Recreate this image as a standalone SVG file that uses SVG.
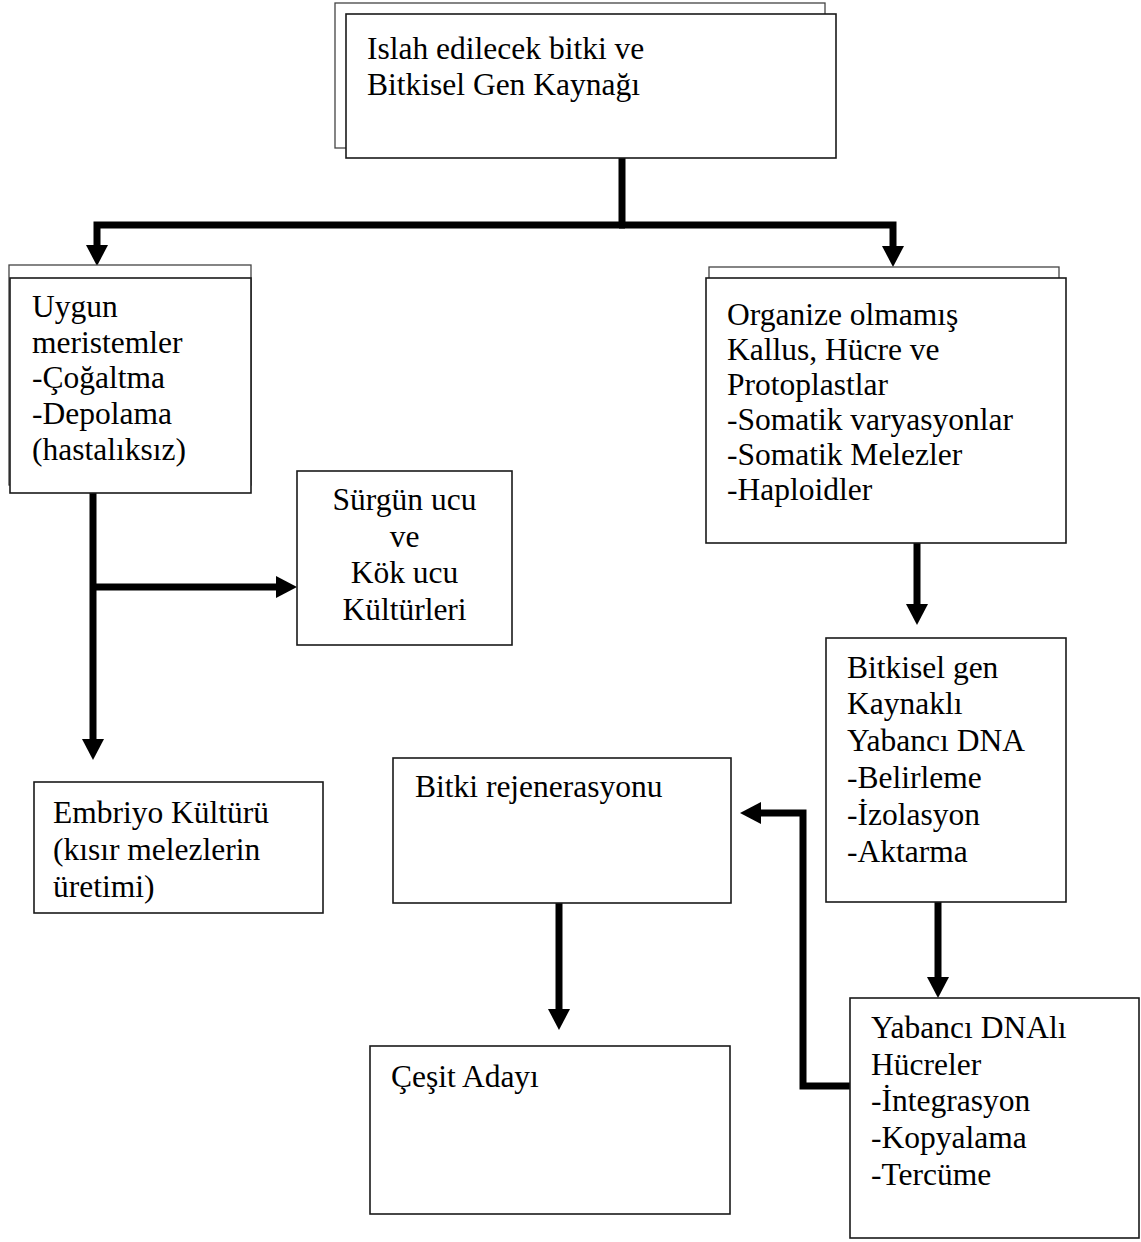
<svg xmlns="http://www.w3.org/2000/svg" width="1141" height="1242" viewBox="0 0 1141 1242">
<defs>
<style>
.box{fill:#fff;stroke:#1a1a1a;stroke-width:1.6}
.back{fill:#fff;stroke:#444;stroke-width:1.3}
.t{font-family:"Liberation Serif","Times New Roman",serif;font-size:31.5px;fill:#000}
.c{fill:none;stroke:#000;stroke-width:7;stroke-linejoin:miter;stroke-linecap:butt}
</style>
<marker id="ah" markerUnits="userSpaceOnUse" markerWidth="24" markerHeight="24" viewBox="0 -12 22 24" refX="0" refY="0" orient="auto">
<path d="M0,-11 L21,0 L0,11 Z" fill="#000"/>
</marker>
</defs>
<rect width="1141" height="1242" fill="#fff"/>

<g id="connectors">
<path class="c" d="M622,158 V225"/>
<path class="c" d="M625,225 H97 V245" marker-end="url(#ah)"/>
<path class="c" d="M619,225 H893 V246" marker-end="url(#ah)"/>
<path class="c" d="M93,493 V739" marker-end="url(#ah)"/>
<path class="c" d="M93,587 H276" marker-end="url(#ah)"/>
<path class="c" d="M917,543 V604" marker-end="url(#ah)"/>
<path class="c" d="M938,902 V977" marker-end="url(#ah)"/>
<path class="c" d="M850,1086 H803 V813 H761" marker-end="url(#ah)"/>
<path class="c" d="M559,903 V1009" marker-end="url(#ah)"/>
</g>

<g id="node-islah">
<rect class="back" x="335" y="3" width="490" height="145"/>
<rect class="box" x="346" y="14" width="490" height="144"/>
<text class="t" x="367" y="59">Islah edilecek bitki ve</text>
<text class="t" x="367" y="95">Bitkisel Gen Kaynağı</text>
</g>

<g id="node-uygun">
<rect class="back" x="9" y="265" width="242" height="220"/>
<rect class="box" x="10" y="278" width="241" height="215"/>
<text class="t" x="32" y="317">Uygun</text>
<text class="t" x="32" y="353">meristemler</text>
<text class="t" x="32" y="388">-Çoğaltma</text>
<text class="t" x="32" y="424">-Depolama</text>
<text class="t" x="32" y="460">(hastalıksız)</text>
</g>

<g id="node-organize">
<rect class="back" x="709" y="267" width="350" height="200"/>
<rect class="box" x="706" y="278" width="360" height="265"/>
<text class="t" x="727" y="325">Organize olmamış</text>
<text class="t" x="727" y="360">Kallus, Hücre ve</text>
<text class="t" x="727" y="395">Protoplastlar</text>
<text class="t" x="727" y="430">-Somatik varyasyonlar</text>
<text class="t" x="727" y="465">-Somatik Melezler</text>
<text class="t" x="727" y="500">-Haploidler</text>
</g>

<g id="node-surgun">
<rect class="box" x="297" y="471" width="215" height="174"/>
<text class="t" x="404.5" y="510" text-anchor="middle">Sürgün ucu</text>
<text class="t" x="404.5" y="547" text-anchor="middle">ve</text>
<text class="t" x="404.5" y="583" text-anchor="middle">Kök ucu</text>
<text class="t" x="404.5" y="620" text-anchor="middle">Kültürleri</text>
</g>

<g id="node-bitkisel">
<rect class="box" x="826" y="638" width="240" height="264"/>
<text class="t" x="847" y="678">Bitkisel gen</text>
<text class="t" x="847" y="714">Kaynaklı</text>
<text class="t" x="847" y="751">Yabancı DNA</text>
<text class="t" x="847" y="788">-Belirleme</text>
<text class="t" x="847" y="825">-İzolasyon</text>
<text class="t" x="847" y="862">-Aktarma</text>
</g>

<g id="node-embriyo">
<rect class="box" x="34" y="782" width="289" height="131"/>
<text class="t" x="53" y="823">Embriyo Kültürü</text>
<text class="t" x="53" y="860">(kısır melezlerin</text>
<text class="t" x="53" y="897">üretimi)</text>
</g>

<g id="node-rejenerasyon">
<rect class="box" x="393" y="758" width="338" height="145"/>
<text class="t" x="415" y="797">Bitki rejenerasyonu</text>
</g>

<g id="node-yabanci">
<rect class="box" x="850" y="998" width="289" height="240"/>
<text class="t" x="871" y="1038">Yabancı DNAlı</text>
<text class="t" x="871" y="1075">Hücreler</text>
<text class="t" x="871" y="1111">-İntegrasyon</text>
<text class="t" x="871" y="1148">-Kopyalama</text>
<text class="t" x="871" y="1185">-Tercüme</text>
</g>

<g id="node-cesit">
<rect class="box" x="370" y="1046" width="360" height="168"/>
<text class="t" x="391" y="1087">Çeşit Adayı</text>
</g>
</svg>
